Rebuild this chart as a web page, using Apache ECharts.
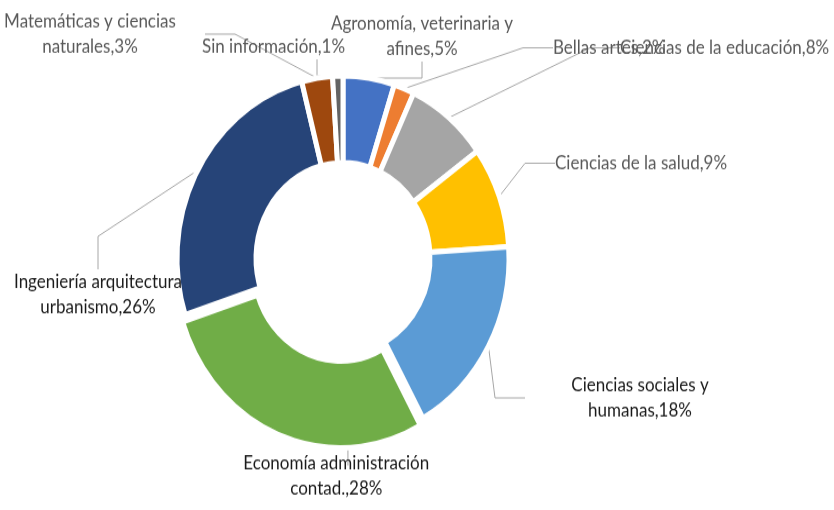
<!DOCTYPE html>
<html>
<head>
<meta charset="utf-8">
<script src="https://cdn.jsdelivr.net/npm/echarts@6/dist/echarts.min.js"></script>
<style>
	html, body { margin: 0; padding: 0; background: #fff; overflow: hidden; }
	/* the original picture is slightly stretched vertically */
	#chart { width: 834px; height: 510px; transform: scaleY(1.0991); transform-origin: 0 0; }
</style>
</head>
<body>
<div id="chart"></div>
<script>
// areas, clockwise from 12 o'clock
var areas = [
	'Agronomía, veterinaria y\nafines',
	'Bellas artes',
	'Ciencias de la educación',
	'Ciencias de la salud',
	'Ciencias sociales y\nhumanas',
	'Economía administración\ncontad.',
	'Ingeniería arquitectura\nurbanismo',
	'Matemáticas y ciencias\nnaturales',
	'Sin información'
];
var shares = [5, 2, 8, 9, 18, 28, 26, 3, 1];
var colors = ['#4472C4', '#ED7D31', '#A5A5A5', '#FFC000', '#5B9BD5', '#70AD47', '#264478', '#9E480E', '#636363'];
var textColors = ['#595959', '#595959', '#595959', '#595959', '#1a1a1a', '#1a1a1a', '#1a1a1a', '#595959', '#595959'];

// label anchor: x, top y, text alignment
var labelPos = [
	[422, 10, 'center'], [553, 32, 'left'], [620, 32, 'left'], [555, 137, 'left'],
	[640, 339, 'center'], [253, 417, 'left'], [98, 245, 'center'], [90, 8, 'center'], [202, 31, 'left']
];

var chart = echarts.init(document.getElementById('chart'));

var pieData = areas.map(function (name, i) {
	var item = {
		name: name,
		value: shares[i],
		selected: i === 5,
		itemStyle: { color: colors[i] },
		label: { color: textColors[i] }
	};
	if (i === 5) {
		// bottom label: left-anchored box, lines centred inside it
		item.label.width = 195;
		item.label.formatter = function (p) {
			return (p.name + ',' + p.value + '%').split('\n').map(function (s) {
				return '{c|' + s + '}';
			}).join('\n');
		};
		item.label.rich = {
			c: { align: 'center', color: textColors[i], fontFamily: 'Lato', fontSize: 17, lineHeight: 23 }
		};
	}
	return item;
});

chart.setOption({
	animation: false,
	series: [
		{
			type: 'pie',
			center: [343, 235],
			radius: [87, 166],
			startAngle: 90,
			clockwise: true,
			selectedMode: 'multiple',
			selectedOffset: 7,
			data: pieData,
			itemStyle: {
				borderColor: '#fff',
				borderWidth: 5
			},
			label: {
				show: true,
				formatter: '{b},{c}%',
				fontFamily: 'Lato',
				fontSize: 17,
				lineHeight: 23,
				width: 230,
				overflow: 'none'
			},
			labelLine: {
				show: true,
				lineStyle: { color: '#a6a6a6', width: 1 }
			},
			emphasis: { disabled: true },
			labelLayout: function (p) {
				var pos = labelPos[p.dataIndex];
				return {
					x: pos[0],
					y: pos[1],
					align: pos[2],
					verticalAlign: 'top'
				};
			}
		}
	]
});
</script>
</body>
</html>
